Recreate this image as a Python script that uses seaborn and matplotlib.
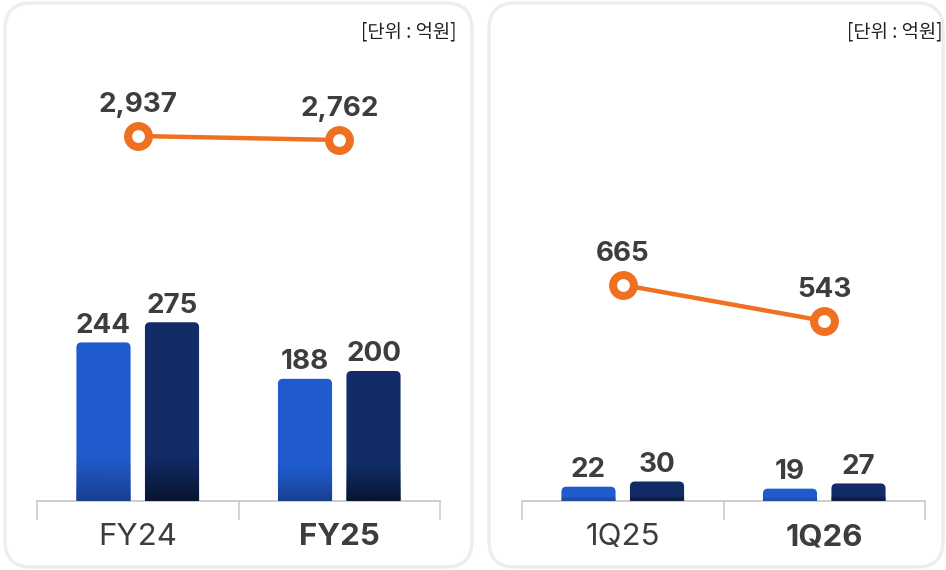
import numpy as np
import matplotlib
matplotlib.use("Agg")
import matplotlib.pyplot as plt
import seaborn as sns
import pandas as pd
from matplotlib.patches import FancyBboxPatch

# ---------------- data ----------------
left_periods = ["FY24", "FY25"]
left_bar_a = [244, 188]
left_bar_b = [275, 200]
left_line = [2937, 2762]

right_periods = ["1Q25", "1Q26"]
right_bar_a = [22, 19]
right_bar_b = [30, 27]
right_line = [665, 543]

series_names = ["series_a", "series_b"]
unit_label = "[단위 : 억원]"

# ---------------- style ----------------
sns.set_theme(style="white")
plt.rcParams['font.family'] = ['Inter', 'Noto Sans CJK KR', 'DejaVu Sans']

LIGHT = "#1f5bcd"
LIGHT_BOTTOM = "#193f8e"
DARK = "#112c66"
DARK_BOTTOM = "#09142f"
ORANGE = "#f07021"
TEXT = "#3d3d3d"
AXIS = "#c9c9c9"

W, H = 946, 570
fig = plt.figure(figsize=(W / 100, H / 100), dpi=100)

# panel frames (inches coordinates so corners are round)
for x0, x1 in [(5, 472), (489, 943)]:
    fig.patches.append(FancyBboxPatch(
        (x0 / 100, 3 / 100), (x1 - x0) / 100, 564 / 100,
        boxstyle="round,pad=0,rounding_size=0.26",
        transform=fig.dpi_scale_trans, fc="white", ec="#ededed", lw=2.4,
        zorder=-5))

PX_PER_UNIT = 0.65        # bar scale (pixels per value unit)
AX_H_PX = 471


def draw_panel(left_px, periods, bar_a, bar_b, line_vals, line_ylim, bold_idx):
    ax = fig.add_axes([left_px / W, 69 / H, 403 / W, AX_H_PX / H])
    ax.patch.set_visible(False)
    df = pd.DataFrame({
        "period": periods * 2,
        "series": [series_names[0]] * len(periods) + [series_names[1]] * len(periods),
        "value": list(bar_a) + list(bar_b),
    })
    sns.barplot(data=df, x="period", y="value", hue="series",
                palette=[LIGHT, DARK], width=0.68, gap=0.21, saturation=1,
                legend=False, ax=ax)
    ylim_top = AX_H_PX / PX_PER_UNIT
    px_per_x = 403 / 2.0
    r_x = 5 / px_per_x
    r_y = 5 / PX_PER_UNIT
    bars = list(ax.patches)
    grad_info = []
    for p in bars:
        x, w, h = p.get_x(), p.get_width(), p.get_height()
        fc = p.get_facecolor()
        p.set_visible(False)
        fp = FancyBboxPatch((x, -r_y), w, h + r_y,
                            boxstyle=f"round,pad=0,rounding_size={r_x}",
                            mutation_aspect=r_y / r_x, fc=fc, ec="none",
                            zorder=2)
        ax.add_patch(fp)
        grad_info.append((fp, x, w, h, fc))
    for fp, x, w, h, fc in grad_info:
        is_light = abs(fc[2] - matplotlib.colors.to_rgba(LIGHT)[2]) < 0.05
        bottom = matplotlib.colors.to_rgb(LIGHT_BOTTOM if is_light else DARK_BOTTOM)
        gh = min(48 / PX_PER_UNIT, 0.3 * h)
        n = 64
        img = np.zeros((n, 1, 4))
        img[:, 0, :3] = bottom
        img[:, 0, 3] = np.linspace(0, 1, n) ** 1.2  # row 0 = top (origin upper)
        im = ax.imshow(img, extent=(x, x + w, 0, gh), aspect="auto",
                       origin="upper", zorder=3, interpolation="bilinear")
        im.set_clip_path(fp)
        ax.annotate(f"{int(round(h))}", (x + w / 2, h), xytext=(0, 7),
                    textcoords="offset points", ha="center", va="baseline",
                    fontsize=20, fontweight="bold", color=TEXT, zorder=5)
    ax.set_xlim(-0.5, len(periods) - 0.5)
    ax.set_ylim(0, ylim_top)
    for s in ["left", "right", "top"]:
        ax.spines[s].set_visible(False)
    ax.spines["bottom"].set_color(AXIS)
    ax.spines["bottom"].set_linewidth(1.3)
    ax.set_yticks([])
    ax.set_xticks(range(len(periods)))
    ax.set_xticklabels(periods)
    for i, lab in enumerate(ax.get_xticklabels()):
        lab.set_fontsize(22.5)
        lab.set_color(TEXT)
        lab.set_fontweight("bold" if i == bold_idx else "normal")
    ax.set_xticks(np.arange(-0.5, len(periods), 1.0), minor=True)
    ax.tick_params(axis="x", which="major", bottom=False, length=0, pad=16)
    ax.tick_params(axis="x", which="minor", bottom=True, length=13.7,
                   width=1.1, color=AXIS, direction="out")
    ax.set_xlabel("")
    ax.set_ylabel("")

    ax2 = ax.twinx()
    ax2.patch.set_visible(False)
    xs = np.arange(len(periods))
    sns.lineplot(x=xs, y=line_vals, ax=ax2, color=ORANGE, lw=3.2,
                 marker="o", markersize=15, markerfacecolor="white",
                 markeredgecolor=ORANGE, markeredgewidth=5.8, zorder=4)
    for xi, v in zip(xs, line_vals):
        ax2.annotate(f"{v:,}", (xi, v), xytext=(0, 17.5),
                     textcoords="offset points", ha="center", va="baseline",
                     fontsize=20, fontweight="bold", color=TEXT)
    ax2.set_ylim(*line_ylim)
    ax2.set_xlim(-0.5, len(periods) - 0.5)
    ax2.set_yticks([])
    ax2.set_ylabel("")
    for s in ax2.spines.values():
        s.set_visible(False)
    return ax


draw_panel(37, left_periods, left_bar_a, left_bar_b, left_line,
           (-13030, 7574), 1)
draw_panel(522, right_periods, right_bar_a, right_bar_b, right_line,
           (-67, 1529), 1)

for xr in [456, 942]:
    fig.text(xr / W, 1 - 32 / H, unit_label, ha="right", va="center",
             fontsize=13.5, color="#222222",
             family=["Noto Sans CJK KR", "DejaVu Sans"])

fig.savefig("out.png", dpi=100, facecolor="white")
